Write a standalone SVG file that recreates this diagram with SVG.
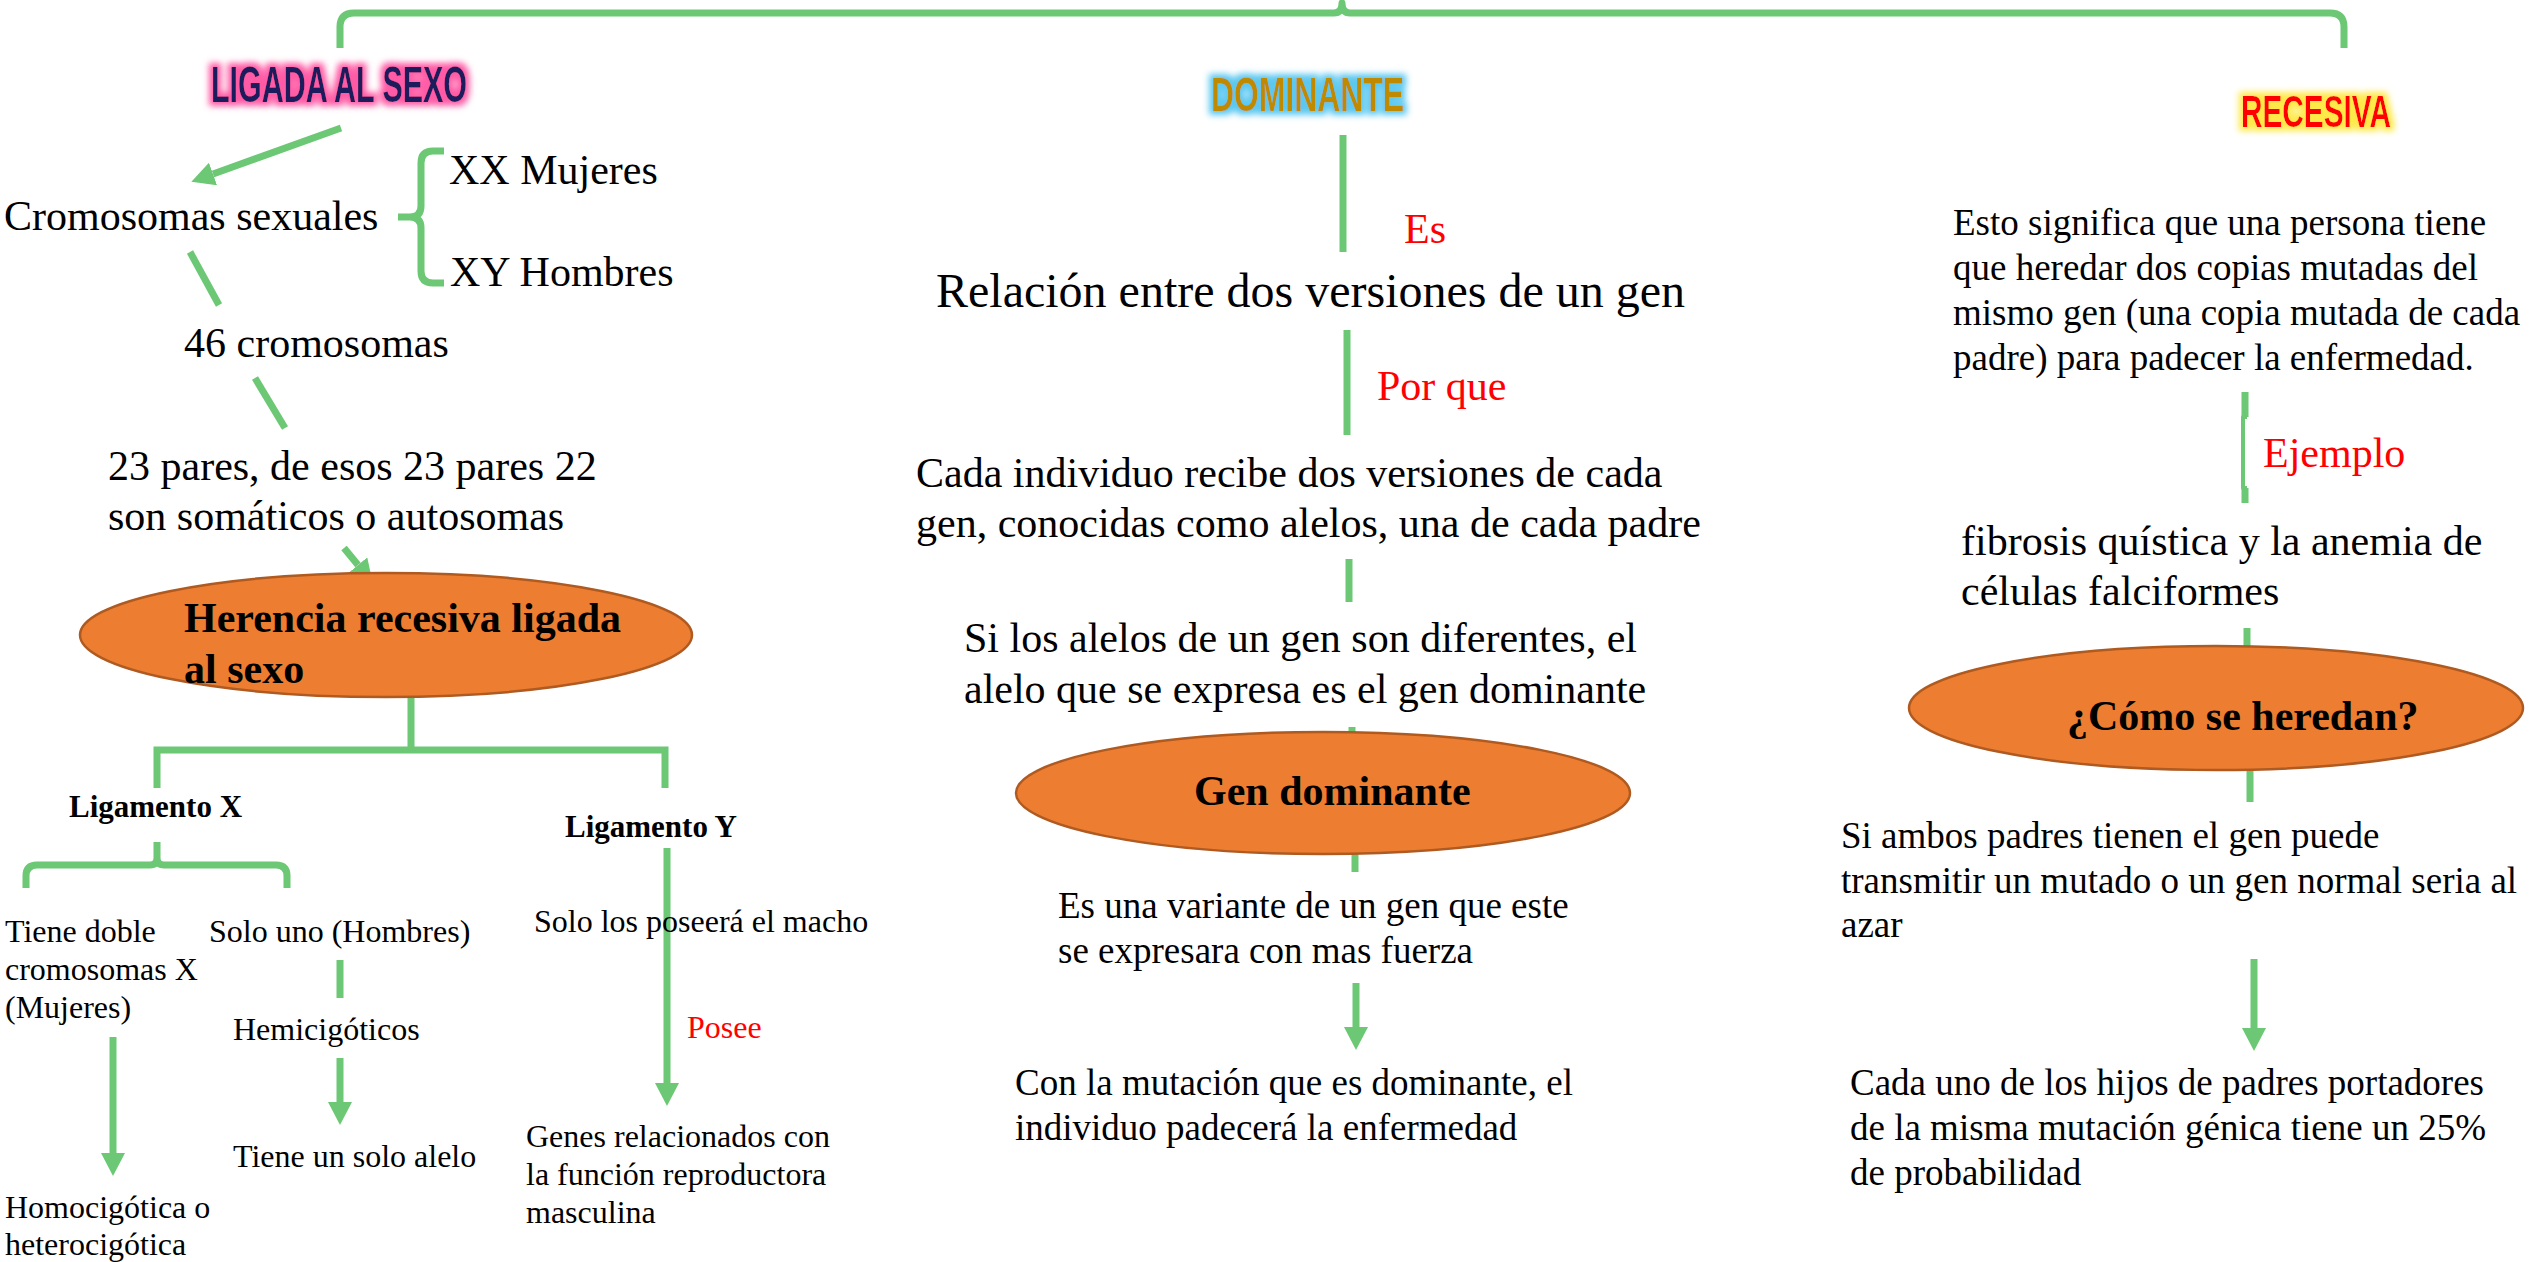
<svg xmlns="http://www.w3.org/2000/svg" width="2542" height="1262" viewBox="0 0 2542 1262">
<style>
.t{font-family:"Liberation Serif","Times New Roman",serif;fill:#000}
.b{font-weight:bold}
.r{fill:#ff0000}
.s42{font-size:42px}
.s48{font-size:48px}
.s37{font-size:37px}
.s32{font-size:32px}
.s31{font-size:31px}
.ttl{font-family:"Liberation Sans Narrow","Liberation Sans",Arial,sans-serif;font-weight:bold}
.ln{fill:none;stroke:#6cc874;stroke-width:7;stroke-linecap:butt;stroke-linejoin:round}
.ar{marker-end:url(#ah)}
.el{fill:#ed7d31;stroke:#ae5a21;stroke-width:2.5}
</style>
<defs>
<marker id="ah" markerUnits="userSpaceOnUse" viewBox="0 0 23 24" refX="0" refY="12" markerWidth="23" markerHeight="24" orient="auto">
<path d="M0,0 L23,12 L0,24 z" fill="#6cc874"/>
</marker>
<filter id="gPink" x="-20%" y="-50%" width="140%" height="200%">
<feMorphology in="SourceAlpha" operator="dilate" radius="4" result="d"/>
<feGaussianBlur in="d" stdDeviation="3" result="bl"/>
<feFlood flood-color="#ff5aa5"/>
<feComposite in2="bl" operator="in" result="g"/>
<feMerge><feMergeNode in="g"/><feMergeNode in="SourceGraphic"/></feMerge>
</filter>
<filter id="gBlue" x="-20%" y="-50%" width="140%" height="200%">
<feMorphology in="SourceAlpha" operator="dilate" radius="4" result="d"/>
<feGaussianBlur in="d" stdDeviation="3" result="bl"/>
<feFlood flood-color="#5cc8f0"/>
<feComposite in2="bl" operator="in" result="g"/>
<feMerge><feMergeNode in="g"/><feMergeNode in="SourceGraphic"/></feMerge>
</filter>
<filter id="gYel" x="-20%" y="-50%" width="140%" height="200%">
<feMorphology in="SourceAlpha" operator="dilate" radius="4" result="d"/>
<feGaussianBlur in="d" stdDeviation="3" result="bl"/>
<feFlood flood-color="#ffe94a"/>
<feComposite in2="bl" operator="in" result="g"/>
<feMerge><feMergeNode in="g"/><feMergeNode in="SourceGraphic"/></feMerge>
</filter>
</defs>
<rect width="2542" height="1262" fill="#ffffff"/>

<g id="connectors">
<path class="ln" d="M340,48 L340,27 Q340,13 354,13 L1334,13 Q1342,13 1342,3 Q1342,13 1350,13 L2330,13 Q2344,13 2344,27 L2344,48"/>
<path class="ln ar" d="M341,128 L213,174"/>
<path class="ln" d="M444,151 L433,151 Q421,151 421,163 L421,206 Q421,217 410,217 L398,217 M410,217 Q421,217 421,228 L421,271 Q421,283 433,283 L444,283"/>
<path class="ln" d="M190,252 L219,305"/>
<path class="ln" d="M255,378 L285,428"/>
<path class="ln ar" d="M344,548 L358,565"/>
<path class="ln" d="M411,697 L411,750 M157,788 L157,750 L665,750 L665,788" style="stroke-linejoin:miter"/>
<path class="ln" d="M26,888 L26,876 Q26,865 37,865 L150,865 Q157,865 157,858 L157,842 M157,858 Q157,865 164,865 L276,865 Q287,865 287,876 L287,888"/>
<path class="ln ar" d="M113,1037 L113,1153"/>
<path class="ln" d="M340,960 L340,998"/>
<path class="ln ar" d="M340,1058 L340,1102"/>
<path class="ln ar" d="M667,848 L667,1083"/>
<path class="ln" d="M1343,135 L1343,252"/>
<path class="ln" d="M1347,330 L1347,435"/>
<path class="ln" d="M1349,559 L1349,602"/>
<path class="ln" d="M1352,727 L1352,745"/>
<path class="ln" d="M1355,850 L1355,872"/>
<path class="ln ar" d="M1356,983 L1356,1027"/>
<path class="ln" d="M2245,392 L2245,417 M2245,488 L2245,503"/>
<path class="ln" style="stroke-width:4" d="M2247,417 L2243,417 L2243,488 L2247,488"/>
<path class="ln" d="M2247,628 L2247,655"/>
<path class="ln" d="M2250,765 L2250,802"/>
<path class="ln ar" d="M2254,959 L2254,1028"/>
</g>

<g id="n-ligada"><text class="ttl" x="211" y="102" font-size="50" fill="#1c1f5c" filter="url(#gPink)" textLength="256" lengthAdjust="spacingAndGlyphs">LIGADA AL SEXO</text></g>
<g id="n-dominante"><text class="ttl" x="1211" y="111" font-size="48" fill="#bf8a00" filter="url(#gBlue)" textLength="193" lengthAdjust="spacingAndGlyphs">DOMINANTE</text></g>
<g id="n-recesiva"><text class="ttl" x="2241" y="127" font-size="44" fill="#ff0000" filter="url(#gYel)" textLength="150" lengthAdjust="spacingAndGlyphs">RECESIVA</text></g>

<g id="n-cromosomas"><text class="t s42" x="4" y="230">Cromosomas sexuales</text></g>
<g id="n-xx"><text class="t s42" x="449" y="184">XX Mujeres</text></g>
<g id="n-xy"><text class="t s42" x="450" y="286">XY Hombres</text></g>
<g id="n-46"><text class="t s42" x="184" y="357">46 cromosomas</text></g>
<g id="n-23"><text class="t s42"><tspan x="108" y="480">23 pares, de esos 23 pares 22</tspan><tspan x="108" y="530">son somáticos o autosomas</tspan></text></g>
<g id="n-herencia"><ellipse class="el" cx="386" cy="635" rx="306" ry="62"/><text class="t b s42"><tspan x="184" y="632">Herencia recesiva ligada</tspan><tspan x="184" y="683">al sexo</tspan></text></g>
<g id="n-ligx"><text class="t b s31" x="69" y="817">Ligamento X</text></g>
<g id="n-ligy"><text class="t b s31" x="565" y="837">Ligamento Y</text></g>
<g id="n-tiene-doble"><text class="t s32"><tspan x="5" y="942">Tiene doble</tspan><tspan x="5" y="980">cromosomas X</tspan><tspan x="5" y="1018">(Mujeres)</tspan></text></g>
<g id="n-solo-uno"><text class="t s32" x="209" y="942">Solo uno (Hombres)</text></g>
<g id="n-hemi"><text class="t s32" x="233" y="1040">Hemicigóticos</text></g>
<g id="n-alelo"><text class="t s32" x="233" y="1167">Tiene un solo alelo</text></g>
<g id="n-homo"><text class="t s32"><tspan x="5" y="1218">Homocigótica o</tspan><tspan x="5" y="1255">heterocigótica</tspan></text></g>
<g id="n-macho"><text class="t s32" x="534" y="932">Solo los poseerá el macho</text></g>
<g id="n-posee"><text class="t r s32" x="687" y="1038">Posee</text></g>
<g id="n-genes"><text class="t s32"><tspan x="526" y="1147">Genes relacionados con</tspan><tspan x="526" y="1185">la función reproductora</tspan><tspan x="526" y="1223">masculina</tspan></text></g>

<g id="n-es"><text class="t r s42" x="1404" y="243">Es</text></g>
<g id="n-relacion"><text class="t s48" x="936" y="307">Relación entre dos versiones de un gen</text></g>
<g id="n-porque"><text class="t r s42" x="1377" y="400">Por que</text></g>
<g id="n-cada"><text class="t s42"><tspan x="916" y="487">Cada individuo recibe dos versiones de cada</tspan><tspan x="916" y="537">gen, conocidas como alelos, una de cada padre</tspan></text></g>
<g id="n-si-alelos"><text class="t s42"><tspan x="964" y="652">Si los alelos de un gen son diferentes, el</tspan><tspan x="964" y="703">alelo que se expresa es el gen dominante</tspan></text></g>
<g id="n-gen-dom"><ellipse class="el" cx="1323" cy="793" rx="307" ry="61"/><text class="t b s42" x="1194" y="805">Gen dominante</text></g>
<g id="n-variante"><text class="t s37"><tspan x="1058" y="918">Es una variante de un gen que este</tspan><tspan x="1058" y="963">se expresara con mas fuerza</tspan></text></g>
<g id="n-mutacion"><text class="t s37"><tspan x="1015" y="1095">Con la mutación que es dominante, el</tspan><tspan x="1015" y="1140">individuo padecerá la enfermedad</tspan></text></g>

<g id="n-esto"><text class="t s37"><tspan x="1953" y="235">Esto significa que una persona tiene</tspan><tspan x="1953" y="280">que heredar dos copias mutadas del</tspan><tspan x="1953" y="325">mismo gen (una copia mutada de cada</tspan><tspan x="1953" y="370">padre) para padecer la enfermedad.</tspan></text></g>
<g id="n-ejemplo"><text class="t r s42" x="2263" y="467">Ejemplo</text></g>
<g id="n-fibrosis"><text class="t s42"><tspan x="1961" y="555">fibrosis quística y la anemia de</tspan><tspan x="1961" y="605">células falciformes</tspan></text></g>
<g id="n-como"><ellipse class="el" cx="2216" cy="708" rx="307" ry="62"/><text class="t b s42" x="2067" y="730">¿Cómo se heredan?</text></g>
<g id="n-ambos"><text class="t s37"><tspan x="1841" y="848">Si ambos padres tienen el gen puede</tspan><tspan x="1841" y="893">transmitir un mutado o un gen normal seria al</tspan><tspan x="1841" y="937">azar</tspan></text></g>
<g id="n-hijos"><text class="t s37"><tspan x="1850" y="1095">Cada uno de los hijos de padres portadores</tspan><tspan x="1850" y="1140">de la misma mutación génica tiene un 25%</tspan><tspan x="1850" y="1185">de probabilidad</tspan></text></g>
</svg>
